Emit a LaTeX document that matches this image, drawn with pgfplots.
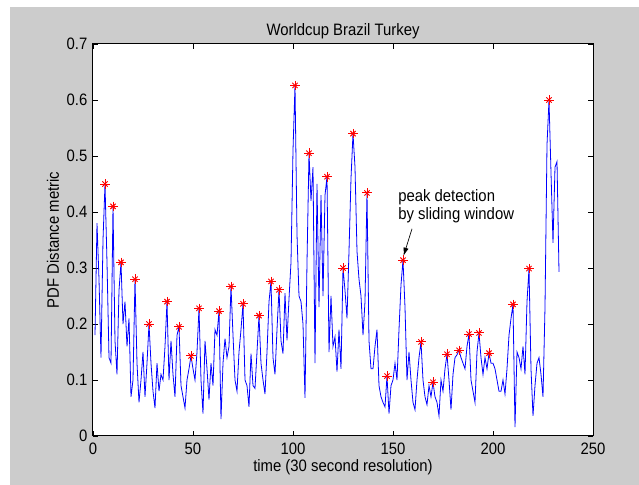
\documentclass[border=0pt]{standalone}
\usepackage{fontspec}
\setmainfont{Liberation Sans}[FakeStretch=0.9]
\usepackage{pgfplots}
\pgfplotsset{compat=1.18}
\usetikzlibrary{arrows.meta}
\definecolor{figgray}{HTML}{CCCCCC}
\definecolor{mblue}{RGB}{0,0,255}
\definecolor{mred}{RGB}{255,0,0}

\begin{document}
\fontsize{12.4pt}{14pt}\selectfont
\begin{tikzpicture}
% figure background (1px = 0.75pt)
\fill[white] (-69.75pt,-36.75pt) rectangle (409.5pt,327pt);
\fill[figgray] (-62.25pt,-36.75pt) rectangle (409.5pt,321.75pt);
\begin{axis}[
  scale only axis, width=375pt, height=294pt,
  xmin=0, xmax=250, ymin=0, ymax=0.7,
  xtick={0,50,100,150,200,250},
  ytick={0,0.1,0.2,0.3,0.4,0.5,0.6,0.7},
  tick align=inside, xtick pos=both, ytick pos=both,
  major tick length=3.75pt,
  axis background/.style={fill=white},
  axis line style={line width=0.75pt},
  every tick/.style={black, line width=0.6pt},
  /pgf/number format/assume math mode=true,
  xticklabel style={anchor=north, inner sep=0pt, yshift=-5pt},
  yticklabel style={anchor=east, inner sep=0pt, xshift=-4pt},
  every axis title shift=0pt,
  title={Worldcup Brazil Turkey},
  title style={at={(axis description cs:0.5,1.0204)}, anchor=base, inner sep=0pt},
  xlabel={time (30 second resolution)},
  xlabel style={at={(axis description cs:0.5,-0.079)}, anchor=center, inner sep=0pt},
  ylabel={PDF Distance metric},
  ylabel style={at={(axis description cs:-0.08,0.5)}, anchor=center, inner sep=0pt},
]
\addplot[mblue, line width=0.6pt] coordinates {
(1,0.18) (2,0.38) (3,0.28) (4,0.14) (5,0.35) (6,0.45) (7,0.31) (8,0.14) (9,0.13) (10,0.41)
(11,0.17) (12,0.11) (13,0.26) (14,0.31) (15,0.20) (16,0.24) (17,0.16) (18,0.21) (19,0.07) (20,0.10)
(21,0.28) (22,0.13) (23,0.06) (24,0.10) (25,0.15) (26,0.07) (27,0.13) (28,0.20) (29,0.13) (30,0.08)
(31,0.05) (32,0.13) (33,0.08) (34,0.11) (35,0.10) (36,0.16) (37,0.24) (38,0.10) (39,0.17) (40,0.11)
(41,0.07) (42,0.18) (43,0.195) (44,0.09) (45,0.07) (46,0.05) (47,0.10) (48,0.12) (49,0.143) (50,0.12)
(51,0.10) (52,0.15) (53,0.228) (54,0.10) (55,0.04) (56,0.17) (57,0.12) (58,0.065) (59,0.13) (60,0.09)
(61,0.19) (62,0.18) (63,0.223) (64,0.03) (65,0.13) (66,0.174) (67,0.14) (68,0.16) (69,0.267) (70,0.18)
(71,0.10) (72,0.08) (73,0.15) (74,0.19) (75,0.236) (76,0.10) (77,0.09) (78,0.052) (79,0.147) (80,0.09)
(81,0.085) (82,0.15) (83,0.215) (84,0.13) (85,0.10) (86,0.075) (87,0.15) (88,0.24) (89,0.276) (90,0.14)
(91,0.11) (92,0.19) (93,0.261) (94,0.17) (95,0.147) (96,0.255) (97,0.171) (98,0.245) (99,0.31) (100,0.51)
(101,0.626) (102,0.36) (103,0.25) (104,0.24) (105,0.20) (106,0.068) (107,0.31) (108,0.505) (109,0.42) (110,0.48)
(111,0.13) (112,0.45) (113,0.23) (114,0.43) (115,0.25) (116,0.43) (117,0.463) (118,0.15) (119,0.25) (120,0.16)
(121,0.177) (122,0.115) (123,0.19) (124,0.12) (125,0.30) (126,0.26) (127,0.21) (128,0.33) (129,0.46) (130,0.54)
(131,0.48) (132,0.33) (133,0.28) (134,0.25) (135,0.18) (136,0.24) (137,0.434) (138,0.17) (139,0.12) (140,0.12)
(141,0.16) (142,0.19) (143,0.09) (144,0.07) (145,0.06) (146,0.052) (147,0.107) (148,0.04) (149,0.09) (150,0.10)
(151,0.13) (152,0.10) (153,0.19) (154,0.27) (155,0.314) (156,0.23) (157,0.10) (158,0.15) (159,0.10) (160,0.06)
(161,0.047) (162,0.10) (163,0.14) (164,0.168) (165,0.10) (166,0.07) (167,0.056) (168,0.09) (169,0.07) (170,0.096)
(171,0.07) (172,0.06) (173,0.036) (174,0.10) (175,0.08) (176,0.12) (177,0.146) (178,0.10) (179,0.047) (180,0.11)
(181,0.14) (182,0.145) (183,0.153) (184,0.14) (185,0.13) (186,0.12) (187,0.16) (188,0.182) (189,0.10) (190,0.08)
(191,0.06) (192,0.15) (193,0.184) (194,0.14) (195,0.11) (196,0.14) (197,0.12) (198,0.148) (199,0.13) (200,0.13)
(201,0.12) (202,0.10) (203,0.08) (204,0.08) (205,0.10) (206,0.075) (207,0.12) (208,0.18) (209,0.21) (210,0.235)
(211,0.016) (212,0.15) (213,0.14) (214,0.12) (215,0.16) (216,0.11) (217,0.24) (218,0.299) (219,0.12) (220,0.036)
(221,0.09) (222,0.13) (223,0.14) (224,0.11) (225,0.07) (226,0.23) (227,0.52) (228,0.60) (229,0.47) (230,0.345)
(231,0.48) (232,0.49) (233,0.293)
};
% detected peaks (MATLAB '*' = plus + cross)
\pgfplotstableread{
x y
6 0.45
10 0.41
14 0.31
21 0.28
28 0.20
37 0.24
43 0.195
49 0.143
53 0.228
63 0.223
69 0.267
75 0.236
83 0.215
89 0.276
93 0.261
101 0.626
108 0.505
117 0.463
125 0.30
130 0.54
137 0.434
147 0.107
155 0.314
164 0.168
170 0.096
177 0.146
183 0.153
188 0.182
193 0.184
198 0.148
210 0.235
218 0.299
228 0.60
}\peaks
\addplot[only marks, mark=+, mark size=3.6pt, mark options={draw=mred, line width=0.7pt}] table {\peaks};
\addplot[only marks, mark=x, mark size=2.8pt, mark options={draw=mred, line width=0.7pt}] table {\peaks};
\node[anchor=north west, align=left, inner sep=0pt, font=\fontsize{12.4pt}{13.5pt}\selectfont]
  at (axis cs:152.5,0.44) {peak detection\\by sliding window};
\draw[-{Latex[length=6pt,width=4pt]}, line width=0.5pt] (axis cs:159.5,0.37) -- (axis cs:155.3,0.322);
\end{axis}
\pgfresetboundingbox
\useasboundingbox (-69.75pt,-36.75pt) rectangle (409.5pt,327pt);
\end{tikzpicture}
\end{document}
